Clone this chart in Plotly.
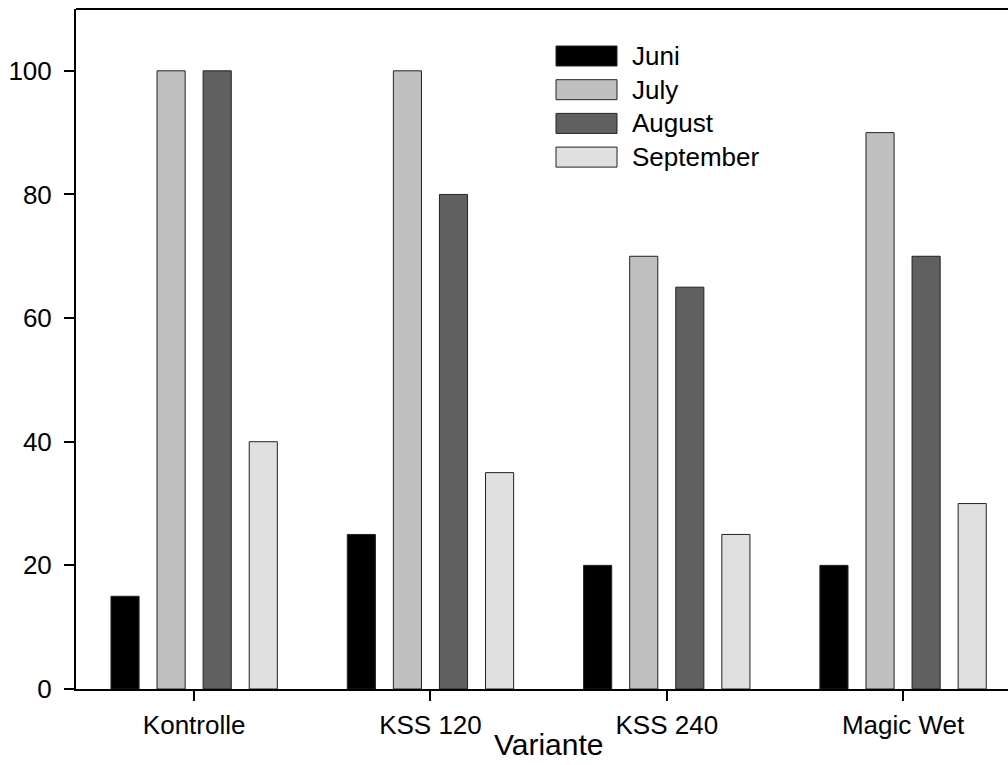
import plotly.graph_objects as go

# Data
categories = ["Kontrolle", "KSS 120", "KSS 240", "Magic Wet"]
months = ["Juni", "July", "August", "September"]
juni = [15, 25, 20, 20]
july = [100, 100, 70, 90]
august = [100, 80, 65, 70]
september = [40, 35, 25, 30]
y_ticks = [0, 20, 40, 60, 80, 100]

series = [juni, july, august, september]
fills = ["#000000", "#c0c0c0", "#606060", "#e0e0e0"]

W, H = 1008, 765
ML, MR, MT, MB = 76, 0, 9, 76
FONT = "Liberation Sans, Arial, sans-serif"

fig = go.Figure()
for name, vals, col in zip(months, series, fills):
    fig.add_trace(go.Bar(
        x=categories, y=vals, name=name,
        marker=dict(color=col, line=dict(color="#222222", width=1)),
        showlegend=False,
    ))

# Legend drawn as wide swatches with labels (pixel layout -> paper coords)
pw, ph = W - ML - MR, H - MT - MB
def px(x):
    return (x - ML) / pw
def py(y):
    return (H - MB - y) / ph

shapes = []
annotations = []
row0, pitch = 56, 33.7
for i, (name, col) in enumerate(zip(months, fills)):
    cy = row0 + i * pitch
    shapes.append(dict(
        type="rect", xref="paper", yref="paper",
        x0=px(556), x1=px(617), y0=py(cy + 10), y1=py(cy - 10),
        fillcolor=col, line=dict(color="#222222", width=1),
    ))
    annotations.append(dict(
        xref="paper", yref="paper", x=px(630), y=py(cy),
        xanchor="left", yanchor="middle", text=name, showarrow=False,
        font=dict(family=FONT, size=26, color="#000000"),
    ))

# Top frame line
shapes.append(dict(type="line", xref="paper", yref="paper", x0=0, x1=1, y0=1, y1=1,
                   line=dict(color="#000000", width=2)))

# Axis title centred under the category span
annotations.append(dict(
    xref="x", yref="paper", x=1.5, y=py(744), xanchor="center", yanchor="middle",
    text="Variante", showarrow=False,
    font=dict(family=FONT, size=30, color="#000000"),
))

fig.update_layout(
    width=W, height=H,
    margin=dict(l=ML, r=MR, t=MT, b=MB, pad=0),
    paper_bgcolor="white", plot_bgcolor="white",
    barmode="group", bargap=0.22, bargroupgap=0.39,
    font=dict(family=FONT, size=26, color="#000000"),
    shapes=shapes, annotations=annotations,
    showlegend=False,
)
fig.update_xaxes(
    type="category", range=[-0.5, 3.444],
    showline=True, linecolor="#000000", linewidth=2,
    ticks="outside", ticklen=10, tickwidth=2, tickcolor="#000000",
    showgrid=False, zeroline=False, ticklabelstandoff=2,
    tickfont=dict(family=FONT, size=26, color="#000000"),
)
fig.update_yaxes(
    range=[0, 110], tickvals=y_ticks,
    showline=True, linecolor="#000000", linewidth=2,
    ticks="outside", ticklen=10, tickwidth=2, tickcolor="#000000",
    showgrid=False, zeroline=False, ticklabelstandoff=7,
    tickfont=dict(family=FONT, size=26, color="#000000"),
)

fig.write_html("out.html")
